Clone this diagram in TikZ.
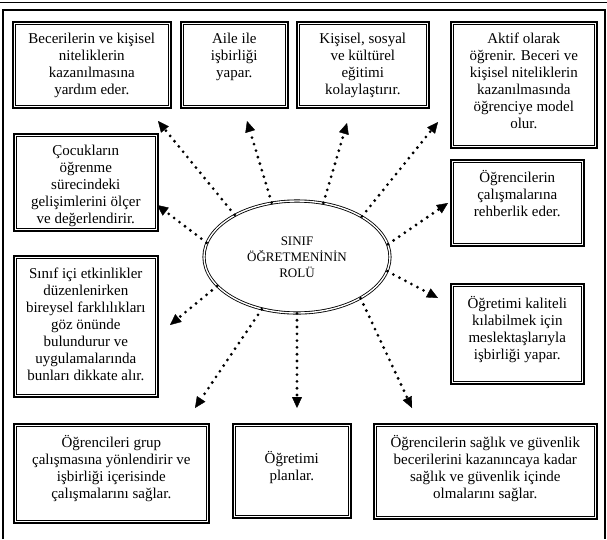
\documentclass[tikz,border=0pt]{standalone}
\usepackage{fontspec}
\setmainfont{Liberation Serif}
\usetikzlibrary{arrows.meta,shapes.geometric}
\begin{document}
\begin{tikzpicture}[x=1pt,y=-1pt,
  boxframe/.style={draw, line width=1.6pt, inner sep=0pt, anchor=north west},
  boxtext/.style={align=center, inner sep=0pt, anchor=north,
    font=\fontsize{15}{17}\selectfont, execute at begin node=\strut},
  ray/.style={line width=3.1pt, line cap=round, dash pattern=on 0pt off 6.8pt,
    -{Triangle[length=11pt 0,width=10pt 0,line width=0.4pt]}},
]
\useasboundingbox (0,0) rectangle (607,539);
% outer frame
\draw[line width=0.6pt] (0,2.5) -- (607,2.5);
\draw[line width=1.2pt] (3,539) -- (3,10) -- (605,10) -- (605,539);

% boxes
\node[boxframe, minimum width=158pt, minimum height=86pt]  (b1)  at (12,21)  {};
\node[boxframe, minimum width=107pt, minimum height=86pt]  (b2)  at (180,21) {};
\node[boxframe, minimum width=132pt, minimum height=86pt]  (b3)  at (296,21) {};
\node[boxframe, minimum width=146pt, minimum height=126pt] (b4)  at (450,21) {};
\node[boxframe, minimum width=144pt, minimum height=97pt]  (b5)  at (13,133) {};
\node[boxframe, minimum width=144pt, minimum height=141pt] (b6)  at (13,255) {};
\node[boxframe, minimum width=133pt, minimum height=86pt]  (b7)  at (450,159) {};
\node[boxframe, minimum width=133pt, minimum height=100pt] (b8)  at (450,283) {};
\node[boxframe, minimum width=195pt, minimum height=99pt]  (b9)  at (13,423) {};
\node[boxframe, minimum width=118pt, minimum height=94pt]  (b10) at (232,423) {};
\node[boxframe, minimum width=223pt, minimum height=95pt]  (b11) at (373,423) {};
\foreach \b in {b1,b2,b3,b4,b5,b6,b7,b8,b9,b10,b11}
  \draw[line width=0.7pt] ([xshift=3.2pt,yshift=-3.2pt]\b.north west) rectangle ([xshift=-3.2pt,yshift=3.2pt]\b.south east);

% texts
\node[boxtext] (t1) at ([yshift=-12pt]b1.north) {Becerilerin ve kişisel\\niteliklerin\\kazanılmasına\\yardım eder.};
\node[boxtext] (t2) at ([yshift=-12pt]b2.north) {Aile ile\\işbirliği\\yapar.};
\node[boxtext] (t3) at ([yshift=-12pt]b3.north) {Kişisel, sosyal\\ve kültürel\\eğitimi\\kolaylaştırır.};
\node[boxtext] (t4) at ([yshift=-12pt]b4.north) {Aktif olarak\\öğrenir. Beceri ve\\kişisel niteliklerin\\kazanılmasında\\öğrenciye model\\olur.};
\node[boxtext] (t5) at ([yshift=-12pt]b5.north) {Çocukların\\öğrenme\\sürecindeki\\gelişimlerini ölçer\\ve değerlendirir.};
\node[boxtext] (t6) at ([yshift=-13pt]b6.north) {Sınıf içi etkinlikler\\düzenlenirken\\bireysel farklılıkları\\göz önünde\\bulundurur ve\\uygulamalarında\\bunları dikkate alır.};
\node[boxtext] (t7) at ([yshift=-11pt]b7.north) {Öğrencilerin\\çalışmalarına\\rehberlik eder.};
\node[boxtext] (t8) at ([yshift=-13pt]b8.north) {Öğretimi kaliteli\\kılabilmek için\\meslektaşlarıyla\\işbirliği yapar.};
\node[boxtext] (t9) at ([yshift=-12pt]b9.north) {Öğrencileri grup\\çalışmasına yönlendirir ve\\işbirliği içerisinde\\çalışmalarını sağlar.};
\node[boxtext] (t10) at ([yshift=-28pt]b10.north) {Öğretimi\\planlar.};
\node[boxtext] (t11) at ([yshift=-12pt]b11.north) {Öğrencilerin sağlık ve güvenlik\\becerilerini kazanıncaya kadar\\sağlık ve güvenlik içinde\\olmalarını sağlar.};

% central ellipse
\node[draw, ellipse, double, double distance=1.4pt, line width=0.85pt,
      minimum width=186pt, minimum height=112pt, inner sep=0pt, align=center,
      font=\fontsize{13}{16}\selectfont] (ell) at (297,257) {SINIF\\ÖĞRETMENİNİN\\ROLÜ};

% arrow end points
\coordinate (e1)  at (158,121);
\coordinate (e2)  at (247,121);
\coordinate (e3)  at (347,123);
\coordinate (e4)  at (438,122);
\coordinate (e5)  at (448,203);
\coordinate (e6)  at (438,298);
\coordinate (e7)  at (195,408);
\coordinate (e8)  at (297,408);
\coordinate (e9)  at (412,408);
\coordinate (e10) at (157,205);
\coordinate (e11) at (170,325);

\draw[ray] (ell.146.5) -- (e1);
\draw[ray] (ell.115.7) -- (e2);
\draw[ray] (ell.64.7)  -- (e3);
\draw[ray] (ell.32.2)  -- (e4);
\draw[ray] (ell.8.2)   -- (e5);
\draw[ray] (ell.-9.5)  -- (e6);
\draw[ray] (ell.-124.9) -- (e7);
\draw[ray] (ell.-90)   -- (e8);
\draw[ray] (ell.-33.5) -- (e9);
\draw[ray] (ell.171)   -- (e10);
\draw[ray] (ell.200)   -- (e11);
\end{tikzpicture}
\end{document}
